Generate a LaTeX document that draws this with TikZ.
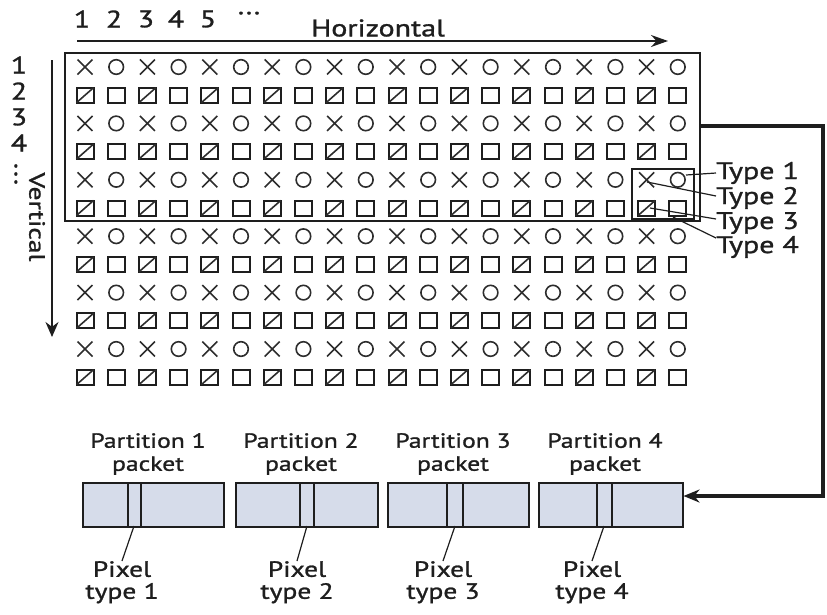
\documentclass[tikz,border=0pt]{standalone}
\usepackage{fontspec}
\setmainfont[FakeStretch=1.25, FakeBold=1.2]{PT Sans}
\usetikzlibrary{arrows.meta}
\definecolor{ink}{RGB}{30,30,30}
\definecolor{symc}{RGB}{45,45,45}
\definecolor{pk}{RGB}{214,220,234}
\tikzset{
  symline/.style={draw=symc, line width=1.6pt},
  sqline/.style={draw=ink, line width=2pt},
  xmark/.pic={\draw[symline] (-7.5,-7.5)--(7.5,7.5) (-7.5,7.5)--(7.5,-7.5);},
  omark/.pic={\draw[symline] (0,0) circle (7.3);},
  hsq/.pic={\draw[sqline] (-8.5,-7.5) rectangle (8.5,7.5); \draw[symline] (-8.5,7.5)--(8.5,-7.5);},
  psq/.pic={\draw[sqline] (-8.5,-7.5) rectangle (8.5,7.5);},
  lbl/.style={font=\fontsize{24}{23}\selectfont, text=ink, inner sep=0pt},
  plbl/.style={font=\fontsize{20.5}{23}\selectfont, text=ink, inner sep=0pt, align=center},
  xlbl/.style={font=\fontsize{22}{22}\selectfont, text=ink, inner sep=0pt, align=center, anchor=north},
  pkt/.style={draw=ink, line width=1.5pt, fill=pk, minimum height=44pt, inner sep=0pt, anchor=north west},
  lead/.style={draw=ink, line width=1.2pt},
}
\begin{document}
\begin{tikzpicture}[x=1pt,y=-1pt]
\useasboundingbox (0,0) rectangle (827,614);
% symbol grid
\foreach \c in {0,...,9} {
  \foreach \r in {0,...,5} {
    \pgfmathsetmacro\XA{85+62.4*\c}
    \pgfmathsetmacro\XB{\XA+31.2}
    \pgfmathsetmacro\YA{67+56.4*\r}
    \pgfmathsetmacro\YB{\YA+28.2}
    \pic at (\XA,\YA) {xmark};
    \pic at (\XB,\YA) {omark};
    \pic at (\XA,\YB) {hsq};
    \pic at (\XB,\YB) {psq};
  }
}
% selection rectangles
\node[draw=ink, line width=1.9pt, minimum width=635pt, minimum height=168pt, inner sep=0pt, anchor=north west] (sel) at (64,52) {};
\node[draw=ink, line width=1.5pt, minimum width=62pt, minimum height=50pt, inner sep=0pt, anchor=north west] (blk) at (631,168) {};
% horizontal axis
\coordinate (h0) at (77,41);
\coordinate (h1) at (668,41);
\draw[draw=ink, line width=1.6pt, -{Stealth[length=17pt,width=12pt]}] (h0) -- (h1);
\node[lbl] (hl) at (378,28) {Horizontal};
\node[lbl] (n1) at (82,19) {1};
\node[lbl] (n2) at (114,19) {2};
\node[lbl] (n3) at (146,19) {3};
\node[lbl] (n4) at (176,19) {4};
\node[lbl] (n5) at (208,19) {5};
\node[lbl] (n6) at (249,16) {···};
% vertical axis
\coordinate (v0) at (52,60);
\coordinate (v1) at (52,337);
\draw[draw=ink, line width=1.6pt, -{Stealth[length=15pt,width=13pt]}] (v0) -- (v1);
\node[lbl] (m1) at (19,65) {1};
\node[lbl] (m2) at (19,91) {2};
\node[lbl] (m3) at (19,117) {3};
\node[lbl] (m4) at (19,143) {4};
\node[lbl, rotate=-90] (m5) at (13,174) {···};
\node[lbl, font=\fontsize{22}{22}\selectfont, rotate=-90] (vl) at (37,217) {Vertical};
% type labels
\node[lbl, anchor=west] (t1) at (716,173) {Type 1};
\node[lbl, anchor=west] (t2) at (716,198) {Type 2};
\node[lbl, anchor=west] (t3) at (716,223) {Type 3};
\node[lbl, anchor=west] (t4) at (716,247) {Type 4};
\coordinate (s1) at (686,175);
\coordinate (s2) at (647,182);
\coordinate (s3) at (650,208);
\coordinate (s4) at (673,217);
\draw[lead] (s1) -- (t1.west);
\draw[lead] (s2) -- ([yshift=2pt]t2.west);
\draw[lead] (s3) -- ([yshift=4pt]t3.west);
\draw[lead] (s4) -- ([yshift=9pt]t4.west);
% packets
\node[pkt, minimum width=141pt] (p1) at (82,482) {};
\node[pkt, minimum width=142pt] (p2) at (235,482) {};
\node[pkt, minimum width=141pt] (p3) at (387,482) {};
\node[pkt, minimum width=144pt] (p4) at (538,482) {};
\foreach \xx in {128,141,300,314,447,463,597,612} {
  \draw[draw=ink, line width=1.5pt] (\xx,482) -- (\xx,526);
}
\node[plbl] (q1) at (148,454) {Partition 1\\packet};
\node[plbl] (q2) at (301,454) {Partition 2\\packet};
\node[plbl] (q3) at (453,454) {Partition 3\\packet};
\node[plbl] (q4) at (605,454) {Partition 4\\packet};
\node[xlbl] (x1) at (122,561) {Pixel\\type 1};
\node[xlbl] (x2) at (297,561) {Pixel\\type 2};
\node[xlbl] (x3) at (443,561) {Pixel\\type 3};
\node[xlbl] (x4) at (592,561) {Pixel\\type 4};
\draw[lead] (134,526) -- (x1.north);
\draw[lead] (307,526) -- (x2.north);
\draw[lead] (455,526) -- (x3.north);
\draw[lead] (604,526) -- (x4.north);
% thick connector
\coordinate (c1) at (823,126);
\coordinate (c2) at (823,496);
\draw[draw=ink, line width=3.5pt, line join=miter, -{Stealth[length=16pt,width=13pt]}] (sel.east |- c1) -- (c1) -- (c2) -- (p4.east |- c2);
\end{tikzpicture}
\end{document}
